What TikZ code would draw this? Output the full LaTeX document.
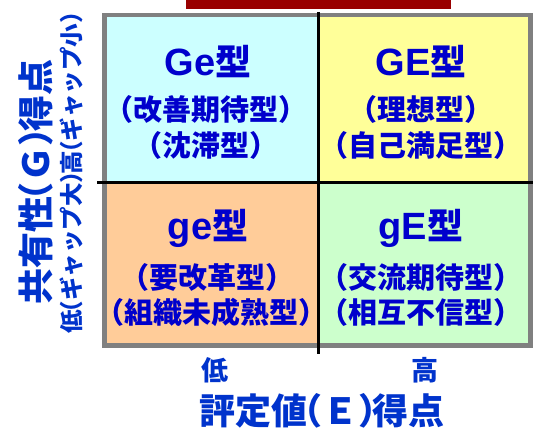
\documentclass[tikz,border=0pt]{standalone}
\usepackage{fontspec}
\newfontfamily\jp{Noto Sans CJK JP}
\newfontfamily\lat{Liberation Sans}
\newcommand\qlp{\kern-0.5em（}
\newcommand\qrp{）\kern-0.5em}
\newcommand\alp{\kern-0.6em（}
\newcommand\arp{）\kern-0.6em}
\definecolor{qcyan}{HTML}{CCFFFF}
\definecolor{qyellow}{HTML}{FFFF99}
\definecolor{qorange}{HTML}{FFCC99}
\definecolor{qgreen}{HTML}{CCFFCC}
\definecolor{barred}{HTML}{990000}
\definecolor{framegray}{HTML}{808080}
\definecolor{qtext}{HTML}{0000CC}
\definecolor{axtext}{HTML}{0033CC}
\tikzset{
  quadtitle/.style={inner sep=0pt, text=qtext, font=\bfseries\fontsize{36}{36}\selectfont},
  quadsub/.style={inner sep=0pt, text=qtext, font=\jp\bfseries\fontsize{29}{29}\selectfont},
  axbig/.style={inner sep=0pt, text=axtext, font=\jp\bfseries\fontsize{36}{36}\selectfont},
  axsmall/.style={inner sep=0pt, text=axtext, font=\jp\bfseries\fontsize{23.5}{23.5}\selectfont},
  axtick/.style={inner sep=0pt, text=axtext, font=\jp\bfseries\fontsize{27}{27}\selectfont},
  divider/.style={draw=black, line width=3pt},
  frameline/.style={draw=framegray, line width=4.7pt}
}
\begin{document}
\begin{tikzpicture}[x=1pt,y=-1pt]
\useasboundingbox (0,0) rectangle (534,438);
\fill[white] (0,0) rectangle (534,438);
\fill[barred] (186,0) rectangle (451,9);
\fill[qcyan] (107,17) rectangle (318,182);
\fill[qyellow] (318,17) rectangle (528,182);
\fill[qorange] (107,182) rectangle (318,343);
\fill[qgreen] (318,182) rectangle (528,343);
\draw[frameline] (104.5,15) rectangle (530.5,345.5);
\coordinate (vt) at (318,12);
\coordinate (vb) at (318,354);
\coordinate (hl) at (97,182);
\coordinate (hr) at (533,182);
\draw[divider] (vt) -- (vb);
\draw[divider] (hl) -- (hr);
% top-left
\node[quadtitle] (tlT) at (208,62) {{\lat\fontsize{38}{38}\selectfont Ge}{\jp 型}};
\node[quadsub] (tl1) at (206,109) {\qlp 改善期待型\qrp};
\node[quadsub] (tl2) at (206,145) {\qlp 沈滞型\qrp};
% top-right
\node[quadtitle] (trT) at (421,62) {{\lat\fontsize{38}{38}\selectfont GE}{\jp 型}};
\node[quadsub] (tr1) at (421,109) {\qlp 理想型\qrp};
\node[quadsub] (tr2) at (421,145) {\qlp 自己満足型\qrp};
% bottom-left
\node[quadtitle] (blT) at (208,228) {{\lat\fontsize{38}{38}\selectfont ge}{\jp 型}};
\node[quadsub] (bl1) at (207,277) {\qlp 要改革型\qrp};
\node[quadsub] (bl2) at (211,312) {\qlp 組織未成熟型\qrp};
% bottom-right
\node[quadtitle] (brT) at (421,228) {{\lat\fontsize{38}{38}\selectfont gE}{\jp 型}};
\node[quadsub] (br1) at (421,277) {\qlp 交流期待型\qrp};
\node[quadsub] (br2) at (421,312) {\qlp 相互不信型\qrp};
% axes
\node[axtick] (elow) at (215,370) {低};
\node[axtick] (ehigh) at (425,370) {高};
\node[axbig] (ex) at (322,411) {評定値\alp Ｅ\arp 得点};
\node[axbig, rotate=90] (gy) at (36,182) {共有性\alp Ｇ\arp 得点};
\node[axsmall, rotate=90] (gsub) at (71,174) {低\alp ギャップ大\arp 高\alp ギャップ小\arp};
\end{tikzpicture}
\end{document}
